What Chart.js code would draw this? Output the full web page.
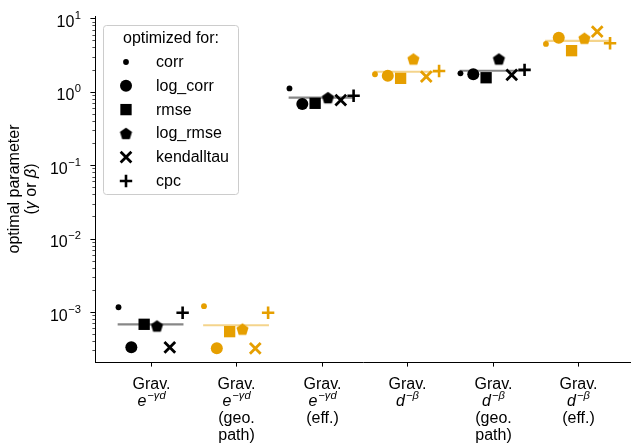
<!DOCTYPE html>
<html>
<head>
<meta charset="utf-8">
<script src="https://cdn.jsdelivr.net/npm/chart.js@4/dist/chart.umd.min.js"></script>
<style>
  html, body { margin: 0; padding: 0; background: #ffffff; }
  #wrap { width: 631px; height: 448px; }
</style>
</head>
<body>
<div id="wrap"><canvas id="chart" width="631" height="448"></canvas></div>
<script>
// Model variants on the x axis (a line containing '^' is typeset as math: base^superscript)
const categories = [
  ['Grav.', 'e^−γd'],
  ['Grav.', 'e^−γd', '(geo.', 'path)'],
  ['Grav.', 'e^−γd', '(eff.)'],
  ['Grav.', 'd^−β'],
  ['Grav.', 'd^−β', '(geo.', 'path)'],
  ['Grav.', 'd^−β', '(eff.)'],
];

// Objective each parameter was optimized for
const metrics = ['corr', 'log_corr', 'rmse', 'log_rmse', 'kendalltau', 'cpc'];

// Optimal parameter per model, one array per objective
const corr       = [1.16e-3, 1.20e-3, 1.11, 1.73, 1.78, 4.47];
const log_corr   = [3.3e-4,  3.2e-4,  0.68, 1.65, 1.73, 5.45];
const rmse       = [6.8e-4,  5.4e-4,  0.695, 1.52, 1.55, 3.62];
const log_rmse   = [6.45e-4, 5.85e-4, 0.83, 2.79, 2.79, 5.35];
const kendalltau = [3.3e-4,  3.2e-4,  0.77, 1.60, 1.69, 6.56];
const cpc        = [9.75e-4, 9.75e-4, 0.88, 1.91, 1.98, 4.56];

// Average level drawn as a horizontal bar per model
const meanLevel  = [6.8e-4, 6.6e-4, 0.83, 1.87, 1.93, 4.91];

// Decades labelled on the log axis
const yTickPowers = [-3, -2, -1, 0, 1];

const legendTitle = 'optimized for:';

const seriesValues = [corr, log_corr, rmse, log_rmse, kendalltau, cpc];

// ---- styling ----
const FONT = '"Liberation Sans", Arial, Helvetica, sans-serif';
const FS = 16;
const BLACK = '#000000';
const ORANGE = '#E69F00';
const markColor = g => (g % 2 === 0 ? BLACK : ORANGE);
const barColor = g => (g % 2 === 0 ? 'rgba(0,0,0,0.47)' : 'rgba(230,159,0,0.45)');
const SHIFT = 0.15;      // horizontal spacing between objectives inside a group
const HALF_BAR = 0.385;  // half-width of the average bar

function pentagonCanvas(color, R) {
  const size = Math.ceil(2 * R + 2);
  const c = document.createElement('canvas');
  c.width = size; c.height = size;
  const ctx = c.getContext('2d');
  ctx.fillStyle = color;
  ctx.beginPath();
  for (let k = 0; k < 5; k++) {
    const a = -Math.PI / 2 + k * 2 * Math.PI / 5;
    const px = size / 2 + R * Math.cos(a);
    const py = size / 2 + 0.6 + R * Math.sin(a);
    if (k === 0) ctx.moveTo(px, py); else ctx.lineTo(px, py);
  }
  ctx.closePath();
  ctx.fill();
  return c;
}
const pentBlack = pentagonCanvas(BLACK, 6.4);
const pentOrange = pentagonCanvas(ORANGE, 6.4);

const markerStyles = [
  { pointStyle: 'circle', radius: 2.9, borderWidth: 0 },
  { pointStyle: 'circle', radius: 6.0, borderWidth: 0 },
  { pointStyle: 'rect', radius: 8.0, borderWidth: 0 },
  { pointStyle: 'pentagon', radius: 6.4, borderWidth: 0 },
  { pointStyle: 'crossRot', radius: 7.6, borderWidth: 2.8 },
  { pointStyle: 'cross', radius: 6.2, borderWidth: 2.6 },
];
const styleFor = (i, g) =>
  markerStyles[i].pointStyle === 'pentagon' ? (g % 2 === 0 ? pentBlack : pentOrange) : markerStyles[i].pointStyle;

// ---- datasets ----
const datasets = [];

meanLevel.forEach((m, g) => {
  datasets.push({
    type: 'line',
    label: '',
    data: [{ x: g - HALF_BAR, y: m }, { x: g + HALF_BAR, y: m }],
    borderColor: barColor(g),
    borderWidth: 2.2,
    pointRadius: 0,
    pointHoverRadius: 0,
    fill: false,
    order: 20,
  });
});

metrics.forEach((name, i) => {
  const vals = seriesValues[i];
  const off = (i - 2.5) * SHIFT;
  datasets.push({
    type: 'scatter',
    label: name,
    data: vals.map((v, g) => ({ x: g + off, y: v })),
    pointStyle: vals.map((_, g) => styleFor(i, g)),
    pointRadius: markerStyles[i].radius,
    pointHoverRadius: markerStyles[i].radius,
    pointBorderWidth: markerStyles[i].borderWidth,
    pointHoverBorderWidth: markerStyles[i].borderWidth,
    pointBackgroundColor: vals.map((_, g) => markColor(g)),
    pointBorderColor: vals.map((_, g) => markColor(g)),
    order: 10 - i,
  });
});

// ---- drawing helpers ----
function drawMarker(ctx, i, x, y, color) {
  const st = markerStyles[i];
  ctx.save();
  ctx.fillStyle = color;
  ctx.strokeStyle = color;
  ctx.lineWidth = st.borderWidth;
  const ps = st.pointStyle === 'pentagon' ? (color === BLACK ? pentBlack : pentOrange) : st.pointStyle;
  Chart.helpers.drawPoint(ctx, { pointStyle: ps, radius: st.radius, borderWidth: st.borderWidth, rotation: 0 }, x, y);
  ctx.restore();
}

function drawMathLine(ctx, text, cx, baseline) {
  const parts = text.split('^');
  const base = parts[0], sup = parts[1] || '';
  const fBase = `italic ${FS}px ${FONT}`;
  const fSup = `italic ${FS * 0.7}px ${FONT}`;
  ctx.font = fBase; const wb = ctx.measureText(base).width;
  ctx.font = fSup; const ws = ctx.measureText(sup).width;
  const gap = 1;
  const x0 = cx - (wb + gap + ws) / 2;
  ctx.textAlign = 'left';
  ctx.textBaseline = 'alphabetic';
  ctx.font = fBase; ctx.fillText(base, x0, baseline);
  ctx.font = fSup; ctx.fillText(sup, x0 + wb + gap, baseline - FS * 0.43);
}

const decorPlugin = {
  id: 'decor',
  afterDraw(chart) {
    const ctx = chart.ctx;
    const xs = chart.scales.x, ys = chart.scales.y;
    const area = chart.chartArea;
    ctx.save();
    ctx.fillStyle = '#000';
    ctx.strokeStyle = '#000';

    // y ticks: major at decades, minor at 2..9
    for (let p = -4; p <= 1; p++) {
      for (let k = 1; k <= 9; k++) {
        const v = k * Math.pow(10, p);
        if (v < ys.min || v > ys.max) continue;
        const py = Math.round(ys.getPixelForValue(v)) + 0.5;
        const len = k === 1 ? 4.6 : 2.6;
        ctx.lineWidth = k === 1 ? 1 : 0.7;
        ctx.beginPath();
        ctx.moveTo(area.left, py);
        ctx.lineTo(area.left - len, py);
        ctx.stroke();
      }
    }
    // y tick labels 10^p
    const rightEdge = area.left - 14;
    yTickPowers.forEach(p => {
      const py = ys.getPixelForValue(Math.pow(10, p));
      const exp = (p < 0 ? '−' : '') + Math.abs(p);
      ctx.textBaseline = 'alphabetic';
      ctx.textAlign = 'right';
      ctx.font = `${FS * 0.7}px ${FONT}`;
      const we = ctx.measureText(exp).width;
      ctx.fillText(exp, rightEdge, py + 0.5);
      ctx.font = `${FS}px ${FONT}`;
      ctx.fillText('10', rightEdge - we - 0.5, py + 8.7);
    });

    // x ticks and multi-line labels
    const baselines = [388.5, 405.5, 423, 440];
    categories.forEach((lines, g) => {
      const px = Math.round(xs.getPixelForValue(g)) + 0.5;
      ctx.lineWidth = 1;
      ctx.beginPath();
      ctx.moveTo(px, area.bottom);
      ctx.lineTo(px, area.bottom + 4.6);
      ctx.stroke();
      lines.forEach((line, li) => {
        if (line.includes('^')) {
          drawMathLine(ctx, line, px, baselines[li]);
        } else {
          ctx.font = `${FS}px ${FONT}`;
          ctx.textAlign = 'center';
          ctx.textBaseline = 'alphabetic';
          ctx.fillText(line, px, baselines[li]);
        }
      });
    });

    // y axis title, two rotated lines
    const cy = (area.top + area.bottom) / 2;
    ctx.save();
    ctx.translate(19, cy);
    ctx.rotate(-Math.PI / 2);
    ctx.font = `${FS}px ${FONT}`;
    ctx.textAlign = 'center';
    ctx.textBaseline = 'alphabetic';
    ctx.fillText('optimal parameter', 0, 0);
    const segs = [['(', false], ['γ', true], [' or ', false], ['β', true], [')', false]];
    let total = 0;
    segs.forEach(s => { ctx.font = `${s[1] ? 'italic ' : ''}${FS}px ${FONT}`; total += ctx.measureText(s[0]).width; });
    let sx = -total / 2;
    ctx.textAlign = 'left';
    segs.forEach(s => {
      ctx.font = `${s[1] ? 'italic ' : ''}${FS}px ${FONT}`;
      ctx.fillText(s[0], sx, 17);
      sx += ctx.measureText(s[0]).width;
    });
    ctx.restore();

    // legend box
    const lx = 103.5, ly = 25.5, lw = 135, lh = 169, r = 3;
    ctx.beginPath();
    ctx.moveTo(lx + r, ly);
    ctx.arcTo(lx + lw, ly, lx + lw, ly + lh, r);
    ctx.arcTo(lx + lw, ly + lh, lx, ly + lh, r);
    ctx.arcTo(lx, ly + lh, lx, ly, r);
    ctx.arcTo(lx, ly, lx + lw, ly, r);
    ctx.closePath();
    ctx.fillStyle = 'rgba(255,255,255,0.8)';
    ctx.fill();
    ctx.strokeStyle = '#cccccc';
    ctx.lineWidth = 1;
    ctx.stroke();

    ctx.fillStyle = '#000';
    ctx.font = `${FS}px ${FONT}`;
    ctx.textAlign = 'center';
    ctx.textBaseline = 'middle';
    ctx.fillText(legendTitle, lx + lw / 2, 38.5);
    ctx.textAlign = 'left';
    metrics.forEach((name, i) => {
      const yy = 62 + i * 23.8;
      drawMarker(ctx, i, 126, yy, BLACK);
      ctx.fillStyle = '#000';
      ctx.font = `${FS}px ${FONT}`;
      ctx.fillText(name, 156, yy + 0.5);
    });
    ctx.restore();
  }
};

new Chart(document.getElementById('chart'), {
  data: { datasets },
  options: {
    responsive: false,
    animation: false,
    devicePixelRatio: 1,
    events: [],
    layout: { autoPadding: false, padding: { left: 95, top: 16, right: 0, bottom: 86 } },
    plugins: { legend: { display: false }, tooltip: { enabled: false } },
    scales: {
      x: {
        type: 'linear',
        position: 'bottom',
        min: -0.65,
        max: 5.62,
        grid: { display: false, drawTicks: false },
        ticks: { display: false },
        border: { display: true, color: '#000', width: 1 },
        afterFit(scale) { scale.height = 0; },
      },
      y: {
        type: 'logarithmic',
        position: 'left',
        min: 2.085e-4,
        max: 10.74,
        grid: { display: false, drawTicks: false },
        ticks: { display: false },
        border: { display: true, color: '#000', width: 1 },
        afterFit(scale) { scale.width = 0; },
      },
    },
  },
  plugins: [decorPlugin],
});
</script>
</body>
</html>
